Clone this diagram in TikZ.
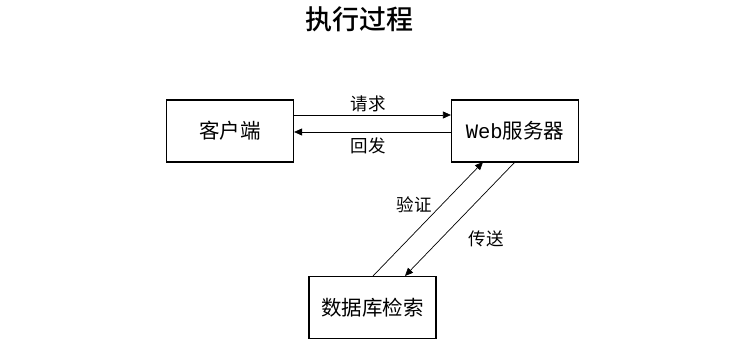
\documentclass[tikz,border=0pt]{standalone}
\usepackage{fontspec}
\newfontfamily\cjk{Noto Sans CJK SC}
\newfontfamily\cjkb{Noto Sans CJK SC Medium}
\newfontfamily\monofnt{Liberation Mono}
\usetikzlibrary{arrows.meta}
\begin{document}
\begin{tikzpicture}[x=1pt,y=-1pt,
  boxnode/.style={draw,line width=1.2pt,minimum width=127pt,minimum height=62pt,inner sep=0pt,font=\cjk\fontsize{20.5}{22}\selectfont},
  lbl/.style={font=\cjk\fontsize{17.5}{19}\selectfont,inner sep=0pt},
  conn/.style={line width=0.7pt,-{Triangle[length=8pt,width=7pt]}}]
\useasboundingbox (0,0) rectangle (755,344);
\node[font=\cjkb\fontsize{27}{29}\selectfont,inner sep=0pt] (title) at (359,19) {执行过程};
\node[boxnode] (client) at (230,131) {客户端};
\node[boxnode] (web) at (515,131) {{\monofnt Web}服务器};
\node[boxnode] (db) at (372.5,307.5) {数据库检索};
\draw[conn] (client.east |- 0,115) -- (web.west |- 0,115);
\draw[conn] (web.west |- 0,132) -- (client.east |- 0,132);
\coordinate (dbA) at (373,276);
\coordinate (webA) at (483,162);
\coordinate (webB) at (515,162);
\coordinate (dbB) at (405,276);
\draw[conn] (dbA) -- (webA);
\draw[conn] (webB) -- (dbB);
\node[lbl] (l1) at (368,104) {请求};
\node[lbl] (l2) at (368,146) {回发};
\node[lbl] (l3) at (414,205) {验证};
\node[lbl] (l4) at (486,239) {传送};
\end{tikzpicture}
\end{document}
